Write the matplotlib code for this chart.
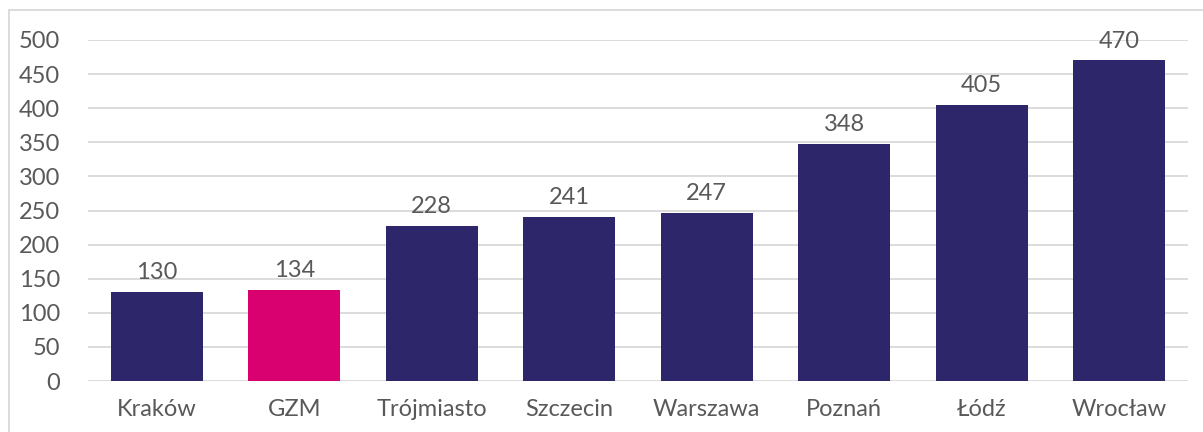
import matplotlib.pyplot as plt
from matplotlib.patches import Rectangle

#=====data
cities = ['Kraków', 'GZM', 'Trójmiasto', 'Szczecin', 'Warszawa', 'Poznań', 'Łódź', 'Wrocław']
values = [130, 134, 228, 241, 247, 348, 405, 470]
yticks = [0, 50, 100, 150, 200, 250, 300, 350, 400, 450, 500]

dark = '#2E266B'
pink = '#D9006F'
txt = '#595959'
colors = [pink if c == 'GZM' else dark for c in cities]

plt.rcParams['font.family'] = ['Lato', 'DejaVu Sans']
fs = 17

fig = plt.figure(figsize=(12.03, 4.32), dpi=100)
ax = fig.add_axes([88/1203, 1-381/432, 1100/1203, 341/432])

x = range(len(cities))
bars = ax.bar(x, values, width=0.67, color=colors, zorder=2)
for xi, v in zip(x, values):
    ax.text(xi, v + 13, str(v), ha='center', va='bottom', fontsize=fs, color=txt)

ax.set_xlim(-0.5, len(cities) - 0.5)
ax.set_ylim(0, 500)
ax.set_yticks(yticks)
ax.set_xticks(list(x))
ax.set_xticklabels(cities)
ax.tick_params(axis='both', length=0, labelsize=fs, labelcolor=txt)
ax.tick_params(axis='x', pad=13)
ax.tick_params(axis='y', pad=20)
ax.yaxis.grid(True, color='#D9D9D9', linewidth=1.3, zorder=0)
ax.set_axisbelow(True)
for s in ax.spines.values():
    s.set_visible(False)

#=====outer frame
fig.patches.append(Rectangle((9/1203, -0.1), 1.2, 1 - 10/432 + 0.1, transform=fig.transFigure,
                             fill=False, edgecolor='#D9D9D9', linewidth=1.3))

plt.savefig('out.png', dpi=100)
